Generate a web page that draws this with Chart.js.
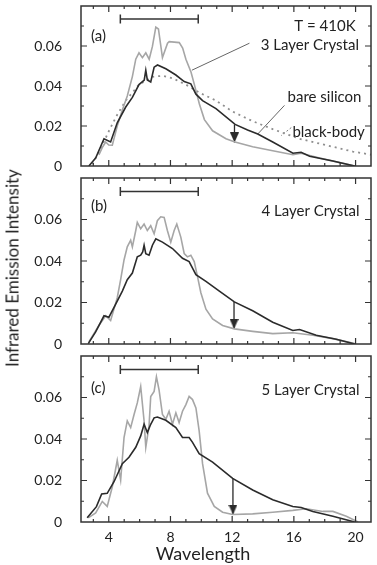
<!DOCTYPE html>
<html>
<head>
<meta charset="utf-8">
<script src="https://cdn.jsdelivr.net/npm/chart.js@4"></script>
<style>
body { margin: 0; background: #fff; }
#wrap { position: relative; width: 377px; height: 565px; font-family: Lato, sans-serif; color: #222; }
canvas { position: absolute; left: 0; }
.title { position: absolute; white-space: nowrap; transform: translate(-50%, -50%); }
#ytitle { left: 12px; top: 268px; font-size: 17px; transform: translate(-50%, -50%) rotate(-90deg); }
#xtitle { left: 203px; top: 553px; font-size: 18px; }
</style>
</head>
<body>
<div id="wrap">
  <canvas id="ca" width="377" height="172" style="top:0"></canvas>
  <canvas id="cb" width="377" height="178" style="top:172px"></canvas>
  <canvas id="cc" width="377" height="215" style="top:350px"></canvas>
  <div class="title" id="ytitle">Infrared Emission Intensity</div>
  <div class="title" id="xtitle">Wavelength</div>
</div>
<script>
// axis ticks
const xTicks = [4, 8, 12, 16, 20];
const xMinor = [3, 4, 5, 6, 7, 8, 9, 10, 11, 12, 13, 14, 15, 16, 17, 18, 19, 20, 21];
const yTicks = [0, 0.02, 0.04, 0.06];
const yMinor = [0.01, 0.02, 0.03, 0.04, 0.05, 0.06, 0.07];

// (a) 3 layer
const siliconA = [[2.71,0],[3.15,0.004],[3.69,0.0136],[4.12,0.012],[4.55,0.0216],[5.1,0.0295],[5.53,0.0343],[5.96,0.0407],[6.3,0.043],[6.4,0.0478],[6.5,0.043],[6.72,0.042],[6.94,0.0494],[7.16,0.0505],[7.7,0.0486],[8.35,0.0455],[8.89,0.0422],[9.32,0.0411],[9.65,0.0359],[10.08,0.0327],[10.95,0.0287],[12.19,0.0208],[13.0,0.018],[13.66,0.016],[14.63,0.012],[15.94,0.0064],[16.47,0.0069],[17.02,0.0049],[18.53,0.0025],[19.94,0]];
const crystalA = [[3.36,0.0056],[3.6,0.0095],[3.8,0.012],[4.0,0.0105],[4.23,0.0104],[4.55,0.02],[4.88,0.028],[5.2,0.035],[5.53,0.0447],[5.75,0.0534],[5.96,0.0566],[6.18,0.0542],[6.4,0.0566],[6.62,0.0534],[6.83,0.0598],[7.05,0.0694],[7.22,0.0685],[7.48,0.0542],[7.81,0.0614],[7.92,0.0622],[8.57,0.0617],[8.79,0.059],[9.0,0.0534],[9.33,0.047],[9.55,0.0407],[9.87,0.0311],[10.2,0.0232],[10.73,0.0176],[11.6,0.0136],[12.18,0.012],[13.33,0.0096],[14.63,0.0076],[15.94,0.0056],[16.47,0.0064],[17.67,0.004],[18.97,0.0017],[19.94,0]];
const blackBody = [[2.93,0.0009],[3.5,0.009],[4.01,0.0175],[4.5,0.025],[5.1,0.0327],[5.96,0.0407],[6.83,0.0446],[7.48,0.0451],[8.13,0.0439],[9.0,0.0407],[9.87,0.0367],[10.95,0.0327],[12.03,0.0272],[13.33,0.0224],[14.63,0.0184],[16.37,0.0136],[18.1,0.0104],[19.83,0.0072],[21.05,0.0056]];

// (b) 4 layer
const siliconB = [[2.67,0.0002],[3.15,0.0058],[3.69,0.0136],[4.01,0.0129],[4.45,0.0192],[4.88,0.0255],[5.2,0.031],[5.53,0.0342],[5.85,0.042],[6.07,0.0428],[6.2,0.0444],[6.29,0.0476],[6.4,0.0435],[6.61,0.0428],[6.83,0.0476],[7.05,0.0507],[7.48,0.0491],[8.13,0.046],[8.78,0.0413],[9.21,0.0397],[9.65,0.0334],[10.3,0.0302],[11.17,0.0255],[12.14,0.0203],[13.33,0.016],[14.63,0.0105],[15.93,0.0065],[16.37,0.007],[17.45,0.0042],[18.75,0.0023],[19.94,0]];
const crystalB = [[2.71,0.001],[3.36,0.0089],[3.8,0.0136],[4.12,0.0113],[4.55,0.0223],[4.77,0.031],[4.99,0.0405],[5.2,0.0468],[5.42,0.05],[5.53,0.0468],[5.75,0.0547],[5.85,0.0586],[6.07,0.0555],[6.29,0.0578],[6.5,0.0547],[6.72,0.057],[6.94,0.0531],[7.15,0.0594],[7.37,0.0613],[7.59,0.061],[7.8,0.0547],[8.02,0.0491],[8.24,0.0547],[8.41,0.0578],[8.67,0.0515],[8.89,0.0436],[9.1,0.042],[9.32,0.0428],[9.54,0.0397],[9.75,0.0326],[9.97,0.0247],[10.3,0.0168],[10.73,0.0121],[11.38,0.0089],[12.14,0.0073],[13.33,0.0061],[14.63,0.005],[15.93,0.0054],[17.23,0.0042],[18.53,0.0026],[19.94,0.0002]];

// (c) 5 layer
const siliconC = [[2.6,0.002],[3.2,0.0074],[3.54,0.0135],[3.9,0.0138],[4.34,0.0194],[4.88,0.0281],[5.31,0.0312],[5.75,0.036],[6.07,0.0415],[6.29,0.0471],[6.5,0.0431],[6.72,0.0471],[6.94,0.0502],[7.15,0.0506],[7.7,0.049],[8.35,0.0455],[8.78,0.0407],[9.21,0.0407],[9.43,0.0384],[9.86,0.0329],[10.73,0.0289],[12.03,0.021],[13.33,0.0154],[14.63,0.0107],[15.93,0.0075],[16.47,0.007],[17.23,0.0051],[18.53,0.0028],[19.94,0]];
const crystalC = [[2.67,0.002],[3.15,0.0044],[3.58,0.0099],[3.9,0.0075],[4.23,0.017],[4.55,0.0297],[4.77,0.0202],[4.99,0.0407],[5.2,0.0487],[5.42,0.0455],[5.64,0.0518],[5.85,0.0574],[6.07,0.0653],[6.29,0.0487],[6.4,0.036],[6.61,0.0463],[6.72,0.0605],[6.94,0.0629],[7.09,0.07],[7.26,0.0637],[7.48,0.0518],[7.7,0.0495],[7.91,0.0534],[8.13,0.0471],[8.35,0.0526],[8.56,0.0479],[8.78,0.0534],[9.0,0.0566],[9.21,0.0605],[9.43,0.059],[9.65,0.055],[9.86,0.0439],[10.08,0.0281],[10.4,0.0139],[10.84,0.0075],[11.38,0.0047],[12.03,0.0036],[13.33,0.0039],[14.63,0.0047],[15.93,0.0056],[16.8,0.0064],[17.88,0.0051],[18.53,0.0051],[19.4,0.0028],[20.16,0]];

// marks: wavelength band, arrows, leader lines
const bandX = [4.75, 9.8];
const bandY = 0.0735;
const arrowA = [[12.15, 0.0208], [12.15, 0.0118]];
const arrowB = [[12.12, 0.0203], [12.12, 0.0073]];
const arrowC = [[12.05, 0.021], [12.05, 0.0036]];
const leadCrystal = [[13.12, 0.0614], [9.39, 0.0479]];
const leadSilicon = [[15.39, 0.0303], [13.66, 0.016]];
const leadBody = [[15.83, 0.0192], [15.18, 0.0152]];

const DARK = '#2b2b2b';
const GRAY = '#a6a6a6';

function pts(arr) {
    return arr.map(p => ({ x: p[0], y: p[1] }));
}

function curve(arr, color, width, dash) {
    return { data: pts(arr), borderColor: color, borderWidth: width, borderDash: dash || [], pointRadius: 0, tension: 0, fill: false };
}

// arrow head, tip at the centre of the image
const head = document.createElement('canvas');
head.width = 9; head.height = 20;
(function () {
    const c = head.getContext('2d');
    c.fillStyle = DARK;
    c.beginPath();
    c.moveTo(0, 0); c.lineTo(9, 0); c.lineTo(4.5, 10); c.closePath();
    c.fill();
})();

function arrow(arr) {
    return {
        data: pts(arr), borderColor: DARK, borderWidth: 1.3, fill: false,
        pointStyle: head, pointRadius: ctx => ctx.dataIndex === 1 ? 4 : 0
    };
}

function band() {
    return {
        data: pts([[bandX[0], bandY], [bandX[1], bandY]]),
        borderColor: '#333', borderWidth: 1.5, fill: false,
        pointStyle: 'line', pointRotation: 90, pointRadius: 4.5,
        pointBorderColor: '#333', pointBorderWidth: 1.5
    };
}

const framePlugin = {
    id: 'frame',
    afterDatasetsDraw(chart) {
        const { ctx, chartArea: a, scales: { x, y } } = chart;
        ctx.save();
        ctx.strokeStyle = '#333';
        ctx.lineWidth = 1.5;
        ctx.strokeRect(a.left, a.top, a.right - a.left, a.bottom - a.top);
        ctx.lineWidth = 1.2;
        ctx.beginPath();
        xMinor.forEach(v => {
            if (v <= x.min || v >= x.max) return;
            const px = x.getPixelForValue(v);
            const len = xTicks.includes(v) ? 6 : 3;
            ctx.moveTo(px, a.bottom); ctx.lineTo(px, a.bottom - len);
            ctx.moveTo(px, a.top); ctx.lineTo(px, a.top + len);
        });
        yMinor.forEach(v => {
            const py = y.getPixelForValue(v);
            const len = yTicks.some(t => Math.abs(t - v) < 1e-9) ? 6 : 3;
            ctx.moveTo(a.left, py); ctx.lineTo(a.left + len, py);
            ctx.moveTo(a.right, py); ctx.lineTo(a.right - len, py);
        });
        ctx.stroke();
        ctx.restore();
    }
};

const notesPlugin = {
    id: 'notes',
    afterDatasetsDraw(chart, args, opts) {
        const { ctx, scales: { x, y } } = chart;
        ctx.save();
        ctx.font = '15px Lato';
        ctx.fillStyle = '#222';
        ctx.textBaseline = 'middle';
        (opts.items || []).forEach(n => {
            ctx.textAlign = n.align;
            ctx.fillText(n.text, x.getPixelForValue(n.x), y.getPixelForValue(n.y));
        });
        ctx.restore();
    }
};

function makeChart(id, datasets, notes, cfg) {
    return new Chart(document.getElementById(id), {
        type: 'line',
        data: { datasets },
        options: {
            responsive: false,
            animation: false,
            devicePixelRatio: 1,
            layout: { padding: { top: cfg.top, right: 5, left: 0, bottom: 0 } },
            plugins: { legend: { display: false }, tooltip: { enabled: false }, notes: { items: notes } },
            scales: {
                x: {
                    type: 'linear', min: 2.2, max: 21,
                    grid: { display: false, drawTicks: false },
                    border: { display: false },
                    afterBuildTicks: s => { s.ticks = xTicks.map(v => ({ value: v })); },
                    ticks: { display: cfg.labels, color: '#222', font: { family: 'Lato', size: 14 }, padding: 7, maxRotation: 0, autoSkip: false },
                    afterFit: s => { s.height = cfg.xh; s.paddingLeft = 0; s.paddingRight = 0; }
                },
                y: {
                    min: 0, max: 0.08,
                    grid: { display: false, drawTicks: false },
                    border: { display: false },
                    afterBuildTicks: s => { s.ticks = yTicks.map(v => ({ value: v })); },
                    ticks: { color: '#222', font: { family: 'Lato', size: 14 }, padding: 19, callback: v => v === 0 ? '0' : v.toFixed(2) },
                    afterFit: s => { s.width = 81; s.paddingTop = 0; s.paddingBottom = 0; }
                }
            }
        },
        plugins: [framePlugin, notesPlugin]
    });
}

makeChart('ca', [
    curve(siliconA, DARK, 1.6),
    curve(crystalA, GRAY, 1.6),
    curve(blackBody, '#8f8f8f', 1.8, [2, 4]),
    arrow(arrowA),
    band(),
    curve(leadCrystal, '#666', 1),
    curve(leadSilicon, '#666', 1),
    curve(leadBody, '#777', 1, [2, 2])
], [
    { text: '(a)', x: 2.85, y: 0.065, align: 'left' },
    { text: 'T = 410K', x: 20.0, y: 0.0701, align: 'right' },
    { text: '3 Layer Crystal', x: 20.22, y: 0.0606, align: 'right' },
    { text: 'bare silicon', x: 20.38, y: 0.0343, align: 'right' },
    { text: 'black-body', x: 20.6, y: 0.0168, align: 'right' }
], { top: 1, xh: 4, labels: false });

makeChart('cb', [
    curve(siliconB, DARK, 1.6),
    curve(crystalB, GRAY, 1.6),
    arrow(arrowB),
    band()
], [
    { text: '(b)', x: 2.85, y: 0.0662, align: 'left' },
    { text: '4 Layer Crystal', x: 20.26, y: 0.0638, align: 'right' }
], { top: 5, xh: 4, labels: false });

makeChart('cc', [
    curve(siliconC, DARK, 1.6),
    curve(crystalC, GRAY, 1.6),
    arrow(arrowC),
    band()
], [
    { text: '(c)', x: 2.85, y: 0.0645, align: 'left' },
    { text: '5 Layer Crystal', x: 20.26, y: 0.0637, align: 'right' }
], { top: 4, xh: 43, labels: true });
</script>
</body>
</html>
